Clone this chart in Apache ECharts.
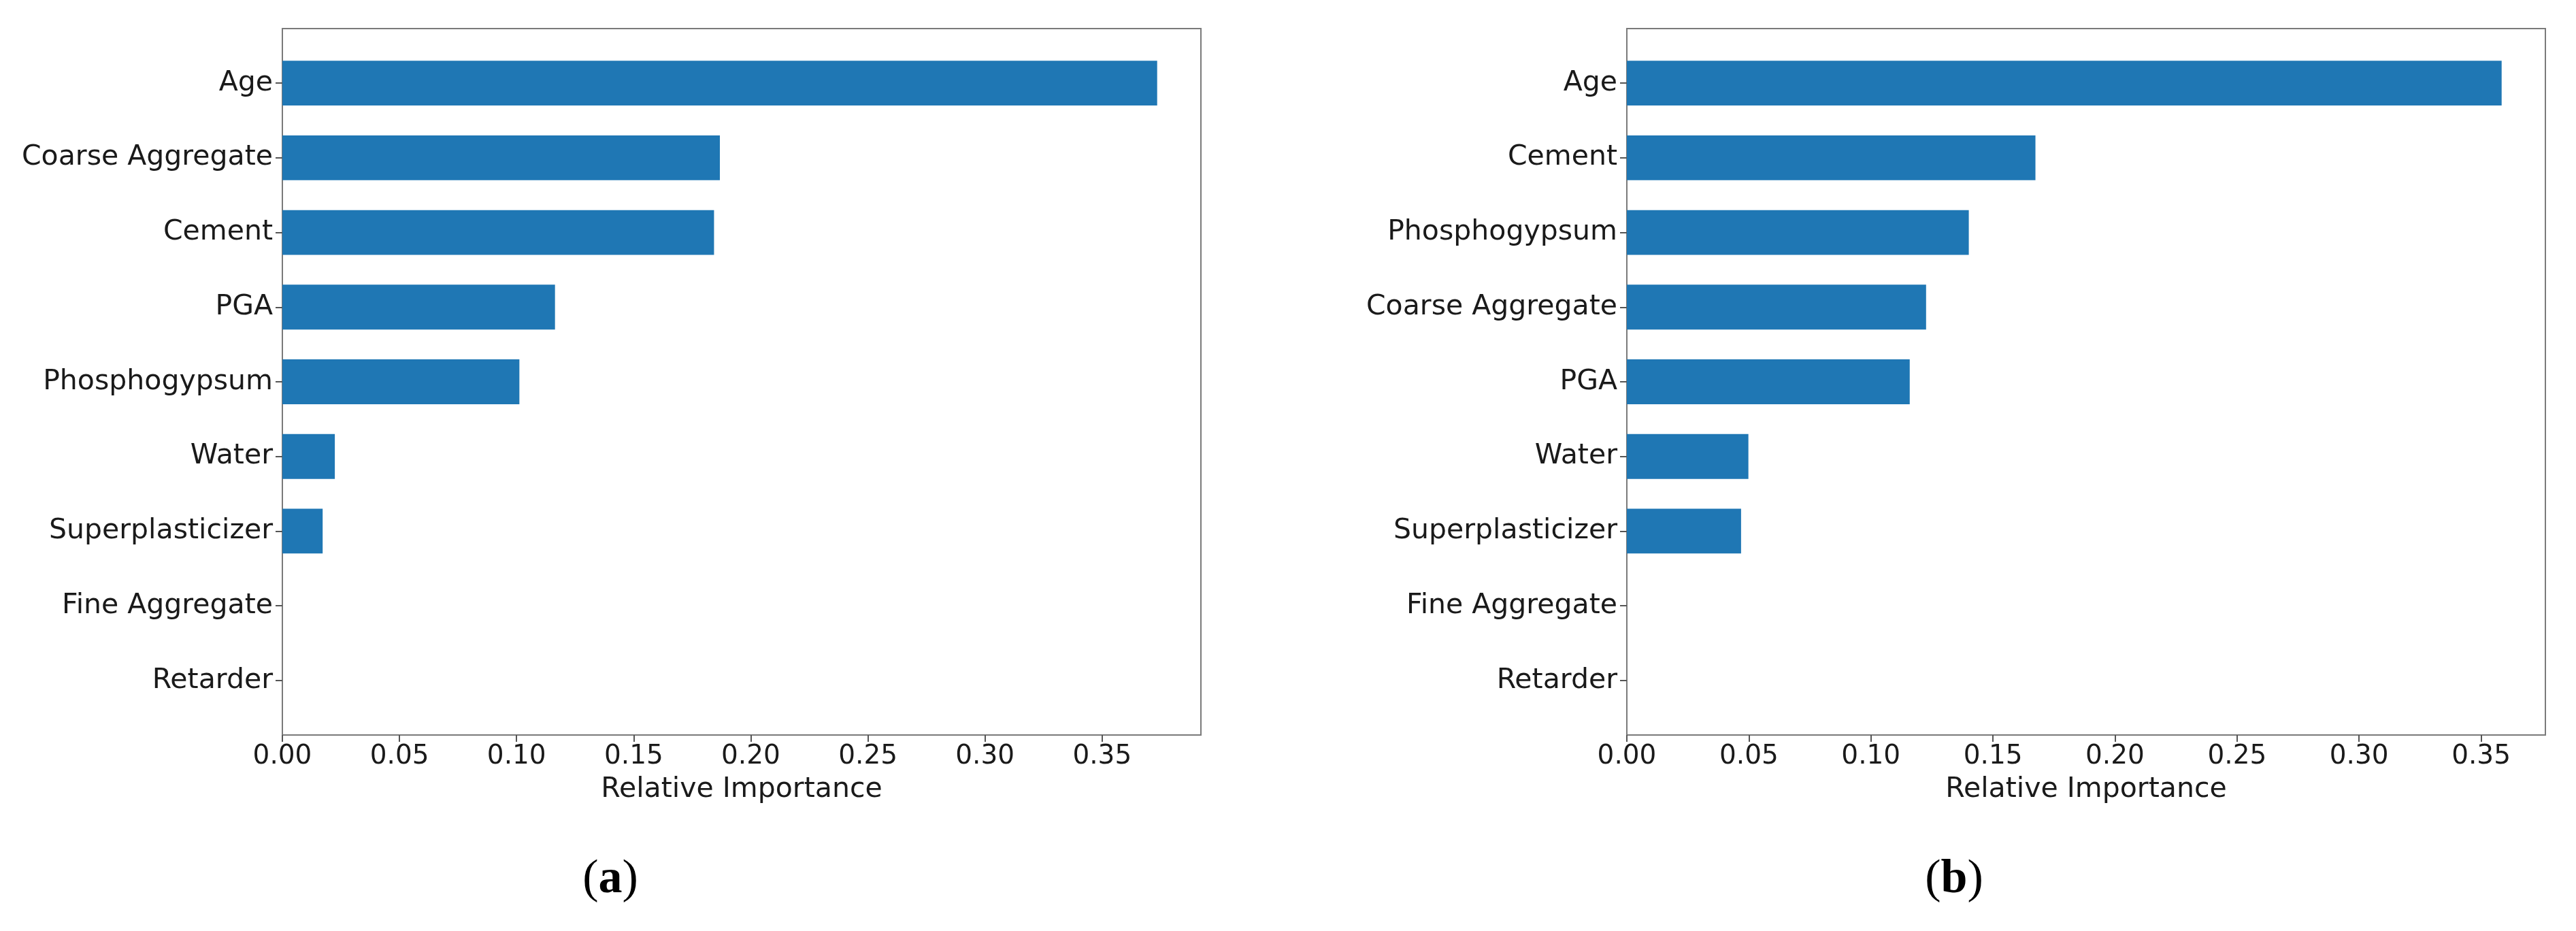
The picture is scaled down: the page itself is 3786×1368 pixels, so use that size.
<!DOCTYPE html>
<html>
<head>
<meta charset="utf-8">
<script src="https://cdn.jsdelivr.net/npm/echarts@6/dist/echarts.min.js"></script>
<style>html,body{margin:0;padding:0;background:#fff}#c{width:3786px;height:1368px}</style>
</head>
<body>
<div id="c"></div>
<script>
// ---- data ----
const categoriesA = ['Age','Coarse Aggregate','Cement','PGA','Phosphogypsum','Water','Superplasticizer','Fine Aggregate','Retarder'];
const valuesA = [0.3735, 0.1868, 0.1843, 0.1164, 0.1012, 0.0224, 0.0172, 0, 0];
const categoriesB = ['Age','Cement','Phosphogypsum','Coarse Aggregate','PGA','Water','Superplasticizer','Fine Aggregate','Retarder'];
const valuesB = [0.3584, 0.1674, 0.1401, 0.1226, 0.1159, 0.0498, 0.0468, 0, 0];
const xTickValues = [0, 0.05, 0.10, 0.15, 0.20, 0.25, 0.30, 0.35];
const xAxisTitle = 'Relative Importance';
const panelLabels = ['a', 'b'];

// ---- layout ----
const W = 3786, H = 1368;
const frameTop = 42, frameBottomY = 1080;
const frameH = frameBottomY - frameTop;
// matplotlib: bar height 0.6, 5% margins -> extra band units beyond 0.5 at each end
const nCat = 9;
const span = (nCat - 1) + 0.6;
const totalUnits = span * 1.1;
const band = frameH / totalUnits;
const inset = band * (0.3 + 0.05 * span - 0.5);

const panels = [
  {cats: categoriesA, vals: valuesA, left: 415, right: 1765, labelX: 897},
  {cats: categoriesB, vals: valuesB, left: 2391, right: 3741, labelX: 2872}
];
const font = 'DejaVu Sans';
const textColor = '#1a1a1a';
const frameColor = '#7a7a7a';

const grid = [], xAxis = [], yAxis = [], series = [], graphic = [];
panels.forEach((p, i) => {
  const gBar = grid.length;
  grid.push({left: p.left, right: W - p.right, top: frameTop + inset, bottom: H - frameBottomY + inset, containLabel: false});
  const gFrame = grid.length;
  grid.push({left: p.left, right: W - p.right, top: frameTop, bottom: H - frameBottomY, show: true,
             borderColor: frameColor, borderWidth: 2, backgroundColor: 'transparent'});
  xAxis.push({
    type: 'value', gridIndex: gBar, min: 0, max: v => v.max * 1.05, offset: inset,
    name: xAxisTitle, nameLocation: 'middle', nameGap: 60,
    nameTextStyle: {fontFamily: font, fontSize: 41, color: textColor},
    axisLine: {show: false}, splitLine: {show: false},
    axisTick: {show: true, length: 10, customValues: xTickValues, lineStyle: {color: '#555', width: 2}},
    axisLabel: {customValues: xTickValues, margin: 12, fontFamily: font, fontSize: 39, color: textColor,
                formatter: v => v.toFixed(2)}
  });
  yAxis.push({
    type: 'category', gridIndex: gBar, data: p.cats, inverse: true,
    axisLine: {show: false}, splitLine: {show: false},
    axisTick: {show: true, alignWithLabel: true, length: 10, lineStyle: {color: '#555', width: 2}},
    axisLabel: {margin: 14, fontFamily: font, fontSize: 41, color: textColor}
  });
  xAxis.push({type: 'value', gridIndex: gFrame, show: false});
  yAxis.push({type: 'value', gridIndex: gFrame, show: false});
  series.push({
    type: 'bar', xAxisIndex: gBar, yAxisIndex: gBar, data: p.vals, barWidth: '60%',
    itemStyle: {color: '#1f77b4'}, silent: true
  });
  graphic.push({
    type: 'text', x: p.labelX, y: 1293,
    style: {
      text: '{p|(}{b|' + panelLabels[i] + '}{p|)}', align: 'center', verticalAlign: 'middle',
      rich: {
        p: {fontFamily: 'Liberation Serif', fontSize: 70, fill: '#000'},
        b: {fontFamily: 'Liberation Serif', fontSize: 70, fontWeight: 'bold', fill: '#000'}
      }
    }
  });
});

const chart = echarts.init(document.getElementById('c'), null, {renderer: 'canvas'});
chart.setOption({animation: false, backgroundColor: '#fff', grid, xAxis, yAxis, series, graphic});
</script>
</body>
</html>
